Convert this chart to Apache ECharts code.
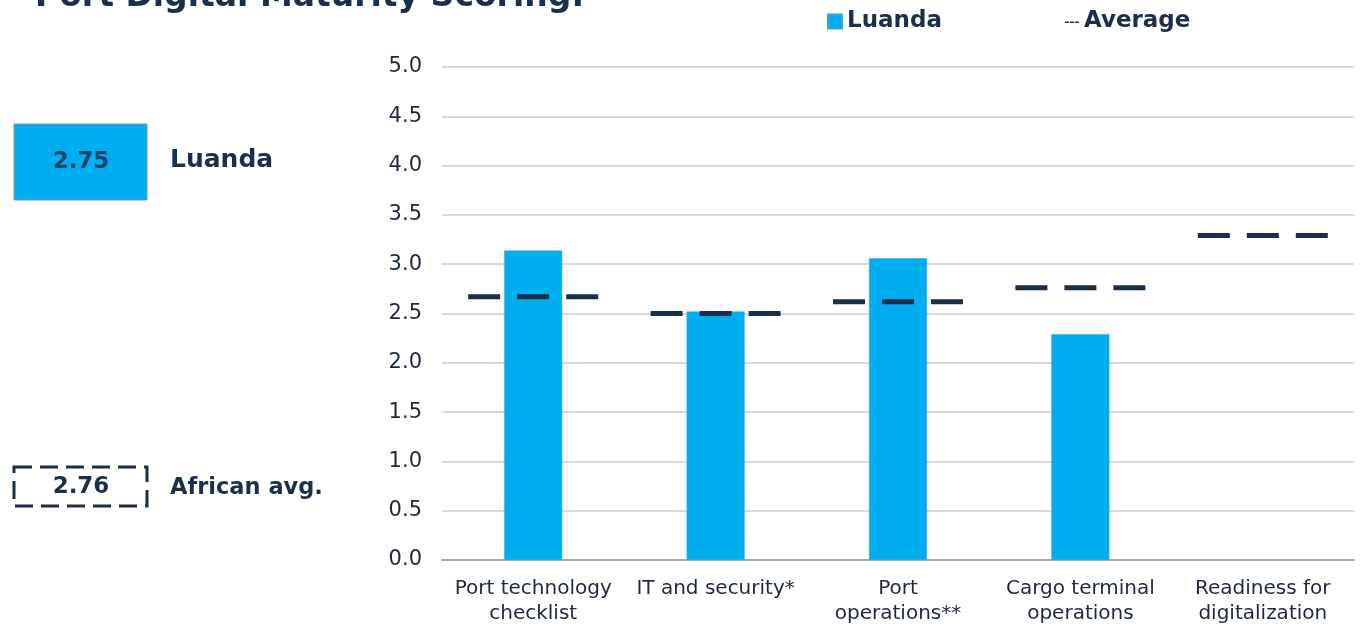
<!DOCTYPE html>
<html>
<head>
<meta charset="utf-8">
<script src="https://cdn.jsdelivr.net/npm/echarts@6/dist/echarts.min.js"></script>
<style>
  html, body { margin: 0; padding: 0; background: #fff; }
  #chart { width: 1362px; height: 626px; }
</style>
</head>
<body>
<div id="chart"></div>
<script>
// categories and values
const categories = ['Port technology\nchecklist', 'IT and security*', 'Port\noperations**', 'Cargo terminal\noperations', 'Readiness for\ndigitalization'];
const luandaValues = [3.14, 2.52, 3.06, 2.29, null];
const averageValues = [2.67, 2.50, 2.62, 2.76, 3.29];
const yTicks = { min: 0, max: 5, interval: 0.5 };
const luandaScore = '2.75';
const africanAvg = '2.76';

const navy = '#1b2f4b';
const blue = '#00AEEF';

const myChart = echarts.init(document.getElementById('chart'));

const option = {
    backgroundColor: '#fff',
    animation: false,
    textStyle: { fontFamily: 'DejaVu Sans' },
    legend: {
        left: 822,
        top: 5,
        itemWidth: 14,
        itemHeight: 14,
        itemGap: 123,
        textStyle: { fontSize: 23, fontWeight: 'bold', color: navy, fontFamily: 'DejaVu Sans' },
        data: [
            { name: 'Luanda', icon: 'rect' },
            // tiny dashes for the average entry (corner specks keep the box square)
            { name: 'Average', icon: 'path://M0,0h0.05v0.05h-0.05z M0,7h4v1.6h-4z M5,7h4v1.6h-4z M10,7h4v1.6h-4z M14,13.95h0.05v0.05h-0.05z' }
        ]
    },
    grid: {
        left: 442,
        right: 8,
        top: 67,
        bottom: 66
    },
    xAxis: {
        type: 'category',
        data: categories,
        axisLine: { show: true, lineStyle: { color: '#a3a7ab', width: 2 } },
        axisTick: { show: false },
        axisLabel: {
            color: '#1d2a3a',
            fontSize: 20,
            lineHeight: 25,
            margin: 16,
            interval: 0
        }
    },
    yAxis: {
        type: 'value',
        min: yTicks.min,
        max: yTicks.max,
        interval: yTicks.interval,
        axisLine: { show: false },
        axisTick: { show: false },
        splitLine: { lineStyle: { color: '#d6d9dd', width: 2 } },
        axisLabel: {
            color: '#1d2a3a',
            fontSize: 21,
            margin: 20,
            formatter: v => v.toFixed(1)
        }
    },
    graphic: [
        {
            type: 'text', left: 35, top: -19,
            style: { text: 'Port Digital Maturity Scoring:', fontSize: 33, fontWeight: 'bold', fill: navy, fontFamily: 'DejaVu Sans' }
        },
        {
            type: 'rect', shape: { x: 14, y: 124, width: 133, height: 76 },
            style: { fill: blue, stroke: '#7d95a8', lineWidth: 1 }
        },
        {
            type: 'text', x: 81, y: 162,
            style: { text: luandaScore, fontSize: 23, fontWeight: 'bold', fill: '#1f416b', align: 'center', verticalAlign: 'middle', fontFamily: 'DejaVu Sans' }
        },
        {
            type: 'text', x: 170, y: 160,
            style: { text: 'Luanda', fontSize: 25, fontWeight: 'bold', fill: navy, align: 'left', verticalAlign: 'middle', fontFamily: 'DejaVu Sans' }
        },
        {
            type: 'rect', shape: { x: 14, y: 467, width: 133, height: 39 },
            style: { fill: 'none', stroke: navy, lineWidth: 3, lineDash: [18, 8] }
        },
        {
            type: 'text', x: 81, y: 487,
            style: { text: africanAvg, fontSize: 23, fontWeight: 'bold', fill: navy, align: 'center', verticalAlign: 'middle', fontFamily: 'DejaVu Sans' }
        },
        {
            type: 'text', x: 170, y: 488,
            style: { text: 'African avg.', fontSize: 22.5, fontWeight: 'bold', fill: navy, align: 'left', verticalAlign: 'middle', fontFamily: 'DejaVu Sans' }
        }
    ],
    series: [
        {
            name: 'Luanda',
            type: 'bar',
            barWidth: 58,
            itemStyle: { color: blue, borderColor: '#3aa6d0', borderWidth: 0.5 },
            data: luandaValues
        },
        {
            name: 'Average',
            type: 'custom',
            itemStyle: { color: navy },
            renderItem: function (params, api) {
                const c = api.coord([api.value(0), api.value(1)]);
                return {
                    type: 'line',
                    shape: { x1: c[0] - 65, y1: c[1], x2: c[0] + 65, y2: c[1] },
                    style: { stroke: api.visual('color'), lineWidth: 5, lineDash: [32, 17] }
                };
            },
            data: averageValues.map((v, i) => [i, v]),
            z: 3
        }
    ]
};

myChart.setOption(option);
</script>
</body>
</html>
